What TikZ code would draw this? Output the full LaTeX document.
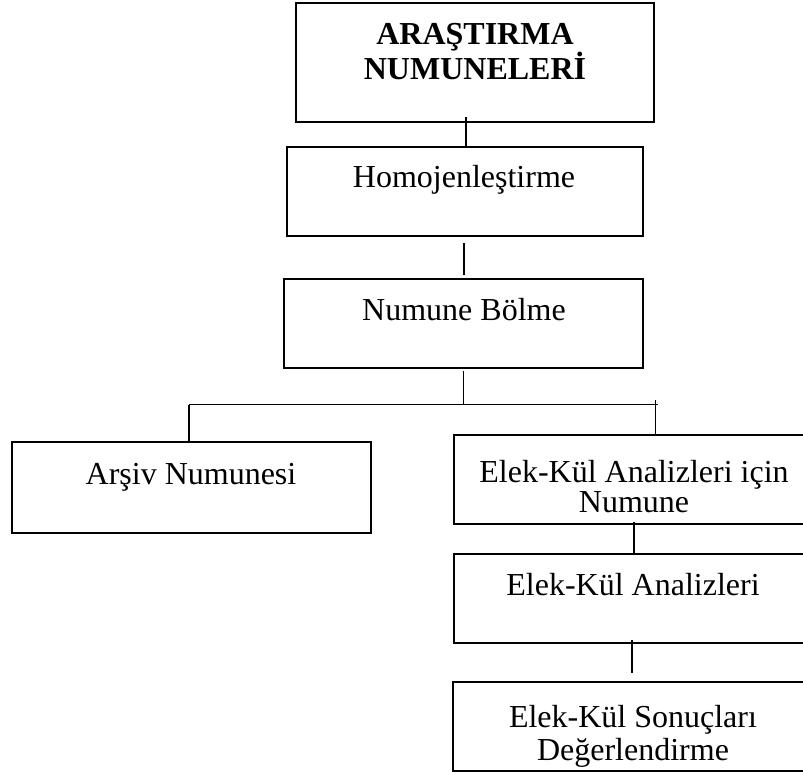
\documentclass[tikz,border=0pt]{standalone}
\usepackage{fontspec}
\setmainfont{Liberation Serif}
\begin{document}
\begin{tikzpicture}[x=1pt,y=-1pt,
  box/.style={draw, line width=1.8pt, rectangle, inner sep=0pt},
  lbl/.style={font=\fontsize{32}{33}\selectfont, align=center, inner sep=0pt, anchor=base},
  link/.style={line width=1.4pt}]
\useasboundingbox (0,0) rectangle (803,773);
\fill[white] (0,0) rectangle (803,773);
\clip (0,0) rectangle (803,773);
% boxes
\node[box, minimum width=358pt, minimum height=119pt] (b1) at (475,62.5) {};
\node[box, minimum width=356pt, minimum height=89pt] (b2) at (465,191.5) {};
\node[box, minimum width=359pt, minimum height=89pt] (b3) at (463.5,323.5) {};
\node[box, minimum width=359pt, minimum height=91pt] (b4) at (191.5,487.5) {};
\node[box, minimum width=360pt, minimum height=89pt] (b5) at (634,479.5) {};
\node[box, minimum width=358pt, minimum height=89pt] (b6) at (633,598.5) {};
\node[box, minimum width=360pt, minimum height=89pt] (b7) at (633,726.5) {};
% texts (base anchor = baseline of the last line)
\node[lbl, font=\bfseries\fontsize{32}{35}\selectfont] (t1) at (475,80) {ARAŞTIRMA\\NUMUNELERİ};
\node[lbl] (t2) at (464,187) {Homojenleştirme};
\node[lbl] (t3) at (464,320) {Numune Bölme};
\node[lbl] (t4) at (191,484) {Arşiv Numunesi};
\node[lbl, font=\fontsize{32}{30}\selectfont] (t5) at (634,512) {Elek-Kül Analizleri için\\Numune};
\node[lbl] (t6) at (633,595) {Elek-Kül Analizleri};
\node[lbl] (t7) at (633,760) {Elek-Kül Sonuçları\\Değerlendirme};
% connectors
\coordinate (hl) at (189,404.5);
\coordinate (hr) at (658,404.5);
\coordinate (hv) at (655.5,400);
\draw[link] ([xshift=-9pt,yshift=6pt]b1.south) -- ([xshift=1pt]b2.north);
\draw[link] ([xshift=-1pt,yshift=-6pt]b2.south) -- ([xshift=0.5pt,yshift=3pt]b3.north);
\draw[link] ([yshift=-2pt]b3.south) -- (b3.south |- hl);
\draw[link] (hl) -- (hr);
\draw[link] (hl) -- (hl |- b4.north);
\draw[link] (hv) -- (hv |- b5.north);
\draw[link] ([yshift=3pt]b5.south) -- (b5.south |- b6.north);
\draw[link] ([xshift=-1pt,yshift=4pt]b6.south) -- ([xshift=-1pt,yshift=8pt]b7.north);
\end{tikzpicture}
\end{document}
